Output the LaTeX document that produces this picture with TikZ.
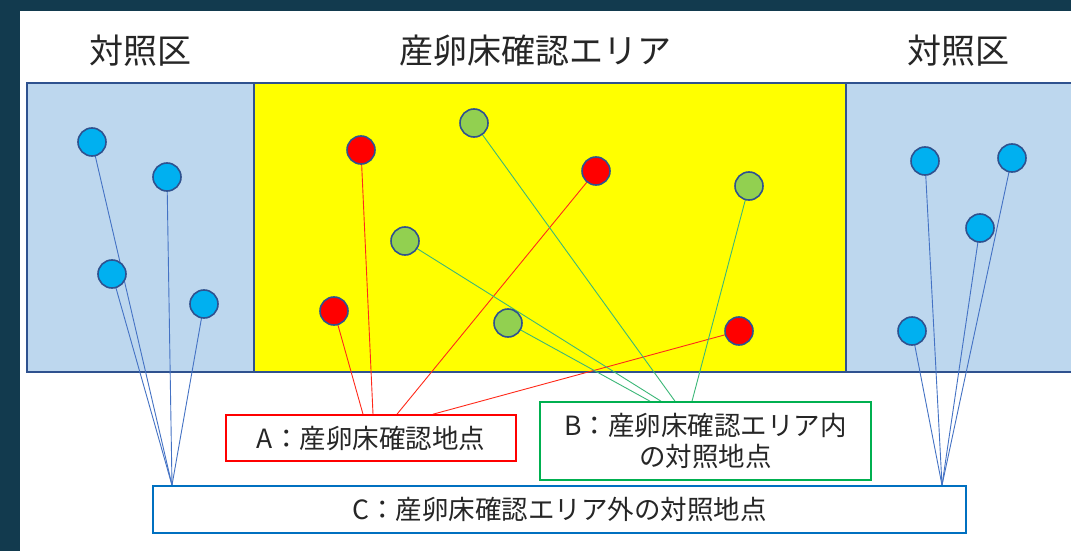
\documentclass[tikz,border=0pt]{standalone}
\usepackage{fontspec}
\setmainfont{Noto Sans CJK JP}
\definecolor{bgdark}{HTML}{123A4E}
\definecolor{zoneblue}{HTML}{BDD7EE}
\definecolor{zoneyellow}{HTML}{FFFF00}
\definecolor{edge}{HTML}{2F528F}
\definecolor{dotblue}{HTML}{00B0F0}
\definecolor{dotred}{HTML}{FF0000}
\definecolor{dotgreen}{HTML}{92D050}
\definecolor{boxred}{HTML}{FF0000}
\definecolor{boxgreen}{HTML}{00B050}
\definecolor{boxblue}{HTML}{0070C0}
\definecolor{linered}{HTML}{FF2A1A}
\definecolor{linegreen}{HTML}{3CB878}
\definecolor{lineblue}{HTML}{4472C4}
\definecolor{txt}{HTML}{262626}
\pgfdeclarelayer{bg}
\pgfdeclarelayer{lines}
\pgfsetlayers{bg,lines,main}
\tikzset{
  zone/.style={draw=edge, line width=1.5pt},
  dot/.style={circle, minimum size=28pt, inner sep=0pt, draw=edge, line width=1.6pt},
  labelbox/.style={fill=white, line width=1.6pt, inner sep=0pt, text=txt, font=\fontsize{26.5}{31}\selectfont, align=center},
  title/.style={text=txt, font=\fontsize{34}{38}\selectfont, inner sep=0pt},
  conn/.style={line width=0.9pt}
}
\begin{document}
\begin{tikzpicture}[x=1pt,y=-1pt]
\useasboundingbox (0,0) rectangle (1071,551);
\begin{pgfonlayer}{bg}
\fill[bgdark] (0,0) rectangle (1071,551);
\fill[white] (20,11) rectangle (1071,551);
\draw[zone, fill=zoneblue] (27,83) rectangle (254,372);
\draw[zone, fill=zoneyellow] (254,83) rectangle (846,372);
\draw[zone, fill=zoneblue] (846,83) rectangle (1085,372);
\end{pgfonlayer}

% titles
\node[title] (t1) at (140,51) {対照区};
\node[title] (t2) at (535,51) {産卵床確認エリア};
\node[title] (t3) at (958,51) {対照区};

% dots
\node[dot, fill=dotblue] (L1) at (92,142) {};
\node[dot, fill=dotblue] (L2) at (167,177) {};
\node[dot, fill=dotblue] (L3) at (112,274) {};
\node[dot, fill=dotblue] (L4) at (204,304) {};
\node[dot, fill=dotblue] (R1) at (925,161) {};
\node[dot, fill=dotblue] (R2) at (1012,158) {};
\node[dot, fill=dotblue] (R3) at (980,228) {};
\node[dot, fill=dotblue] (R4) at (912,331) {};
\node[dot, fill=dotred] (P1) at (361,150) {};
\node[dot, fill=dotred] (P2) at (596,171) {};
\node[dot, fill=dotred] (P3) at (334,311) {};
\node[dot, fill=dotred] (P4) at (739,331) {};
\node[dot, fill=dotgreen] (G1) at (474,123) {};
\node[dot, fill=dotgreen] (G2) at (749,186) {};
\node[dot, fill=dotgreen] (G3) at (405,241) {};
\node[dot, fill=dotgreen] (G4) at (508,323) {};

% label boxes
\node[labelbox, draw=boxred, minimum width=290pt, minimum height=46pt] (A) at (371,438) {A：産卵床確認地点};
\node[labelbox, draw=boxgreen, minimum width=331pt, minimum height=78pt] (B) at (705.5,441) {B：産卵床確認エリア内\\の対照地点};
\node[labelbox, draw=boxblue, minimum width=813pt, minimum height=47pt] (C) at (559.5,509.5) {C：産卵床確認エリア外の対照地点};

\begin{pgfonlayer}{lines}
\draw[conn, linered] (P3.center) -- ([xshift=-8pt]A.north);
\draw[conn, linered] (P1.center) -- ([xshift=2pt]A.north);
\draw[conn, linered] (P2.center) -- ([xshift=26pt]A.north);
\draw[conn, linered] (P4.center) -- ([xshift=62pt]A.north);
\draw[conn, linegreen] (G4.center) -- ([xshift=-55.5pt]B.north);
\draw[conn, linegreen] (G3.center) -- ([xshift=-44.5pt]B.north);
\draw[conn, linegreen] (G1.center) -- ([xshift=-30.5pt]B.north);
\draw[conn, linegreen] (G2.center) -- ([xshift=-13.5pt]B.north);
\foreach \n in {L1,L2,L3,L4}
  \draw[conn, lineblue] (\n.center) -- ([xshift=-387.5pt]C.north);
\foreach \n in {R1,R2,R3,R4}
  \draw[conn, lineblue] (\n.center) -- ([xshift=382.5pt]C.north);
\end{pgfonlayer}
\end{tikzpicture}
\end{document}
